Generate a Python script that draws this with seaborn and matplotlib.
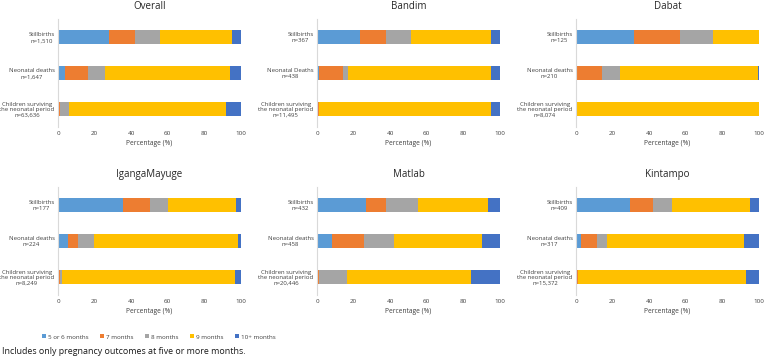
import matplotlib
matplotlib.use("Agg")
import matplotlib.pyplot as plt
import seaborn as sns
import pandas as pd
import numpy as np
from matplotlib.patches import Patch

sns.set_theme(style="white")
plt.rcParams['font.family'] = ['Open Sans', 'DejaVu Sans']

sites = ["Overall", "Bandim", "Dabat", "IgangaMayuge", "Matlab", "Kintampo"]
outcome_labels = {
    "Overall": ["Stillbirths\nn=1,510", "Neonatal deaths\nn=1,647", "Children surviving\nthe neonatal period\nn=63,636"],
    "Bandim": ["Stillbirths\nn=367", "Neonatal Deaths\nn=438", "Children surviving\nthe neonatal period\nn=11,495"],
    "Dabat": ["Stillbirths\nn=125", "Neonatal deaths\nn=210", "Children surviving\nthe neonatal period\nn=8,074"],
    "IgangaMayuge": ["Stillbirths\nn=177", "Neonatal deaths\nn=224", "Children surviving\nthe neonatal period\nn=8,249"],
    "Matlab": ["Stillbirths\nn=432", "Neonatal deaths\nn=458", "Children surviving\nthe neonatal period\nn=20,446"],
    "Kintampo": ["Stillbirths\nn=409", "Neonatal deaths\nn=317", "Children surviving\nthe neonatal period\nn=15,372"],
}
months = ["5 or 6 months", "7 months", "8 months", "9 months", "10+ months"]
colors = ["#5B9BD5", "#ED7D31", "#A5A5A5", "#FFC000", "#4472C4"]

# Percentages per site: rows = stillbirths, neonatal deaths, surviving children; cols = month groups
overall = [[28.0, 13.9, 13.7, 39.3, 5.1], [3.8, 12.6, 9.1, 68.7, 5.8], [0.1, 0.8, 4.9, 86.0, 8.2]]
bandim = [[23.5, 14.3, 13.8, 43.6, 4.8], [1.1, 13.2, 2.9, 77.8, 5.0], [0.1, 0.8, 0.1, 94.2, 4.8]]
dabat = [[31.8, 25.1, 17.7, 25.4, 0.0], [0.0, 14.1, 9.7, 75.7, 0.5], [0.0, 0.1, 0.1, 99.6, 0.2]]
iganga = [[35.5, 14.6, 10.2, 36.8, 2.9], [5.3, 5.8, 8.4, 79.0, 1.5], [0.1, 0.8, 1.3, 94.7, 3.1]]
matlab = [[26.6, 10.9, 17.6, 38.3, 6.6], [8.1, 17.5, 16.7, 48.0, 9.7], [0.1, 1.2, 15.0, 67.6, 16.1]]
kintampo = [[29.5, 12.6, 10.5, 42.7, 4.7], [2.8, 8.9, 5.5, 74.5, 8.3], [0.1, 0.9, 0.1, 92.0, 7.0]]
site_values = {"Overall": overall, "Bandim": bandim, "Dabat": dabat,
               "IgangaMayuge": iganga, "Matlab": matlab, "Kintampo": kintampo}

W, H = 778, 360
fig = plt.figure(figsize=(W / 100, H / 100), dpi=100)

col_left = [58, 317, 576]
col_width = 183
row_top = [19, 187]
ax_h = 108

for i, site in enumerate(sites):
    r, c = divmod(i, 3)
    ax = fig.add_axes([col_left[c] / W, 1 - (row_top[r] + ax_h) / H, col_width / W, ax_h / H])
    vals = np.array(site_values[site])
    cum = np.cumsum(vals, axis=1)
    labels = outcome_labels[site]
    rows = []
    for j, lab in enumerate(labels):
        for k, m in enumerate(months):
            rows.append({"outcome": lab, "month": m, "cum": cum[j, k]})
    df = pd.DataFrame(rows)
    for k in reversed(range(len(months))):
        sub = df[df["month"] == months[k]]
        sns.barplot(data=sub, x="cum", y="outcome", order=labels, color=colors[k],
                    orient="h", width=0.39, ax=ax, saturation=1, linewidth=0)
    ax.set_xlim(0, 100)
    ax.set_ylim(2.5, -0.5)
    ax.set_xticks([0, 20, 40, 60, 80, 100])
    ax.tick_params(axis="x", length=0, labelsize=4.5, colors="#404040", pad=3)
    ax.tick_params(axis="y", length=0, labelsize=4.3, colors="#404040", pad=2.5)
    for t in ax.get_yticklabels():
        t.set_multialignment("center")
    ax.set_ylabel("")
    ax.set_xlabel("Percentage (%)", fontsize=4.8, color="#404040", labelpad=3)
    ax.set_title(site, fontsize=7, color="#262626", pad=7)
    for s in ["top", "right", "bottom"]:
        ax.spines[s].set_visible(False)
    ax.spines["left"].set_color("#D9D9D9")
    ax.spines["left"].set_linewidth(0.8)

handles = [Patch(facecolor=c, edgecolor="none", label=m) for m, c in zip(months, colors)]
fig.legend(handles=handles, loc="center", bbox_to_anchor=(159 / W, 1 - 337 / H), ncol=5,
           frameon=False, fontsize=4.5, handlelength=0.6, handleheight=0.6,
           handletextpad=0.3, columnspacing=1.9, labelcolor="#404040")
fig.text(2 / W, 1 - 352 / H, "Includes only pregnancy outcomes at five or more months.",
         fontsize=6.4, color="#1a1a1a", va="center", ha="left")

fig.savefig("out.png", dpi=100)
